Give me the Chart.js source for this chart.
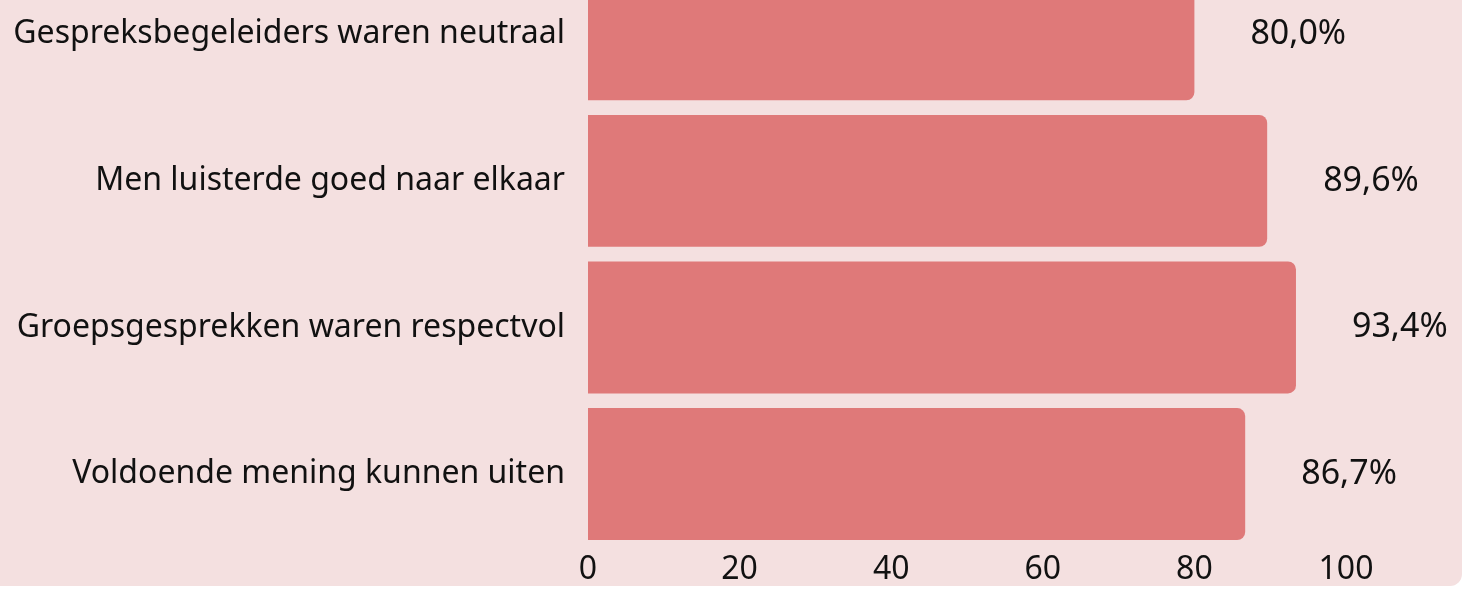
<!DOCTYPE html>
<html lang="nl">
<head>
    <meta charset="UTF-8">
    <title>Gespreksbeleving</title>
    <script src="https://cdn.jsdelivr.net/npm/chart.js"></script>
    <style>
        html, body { margin: 0; padding: 0; background: #ffffff; overflow: hidden; }
        #wrap { position: relative; width: 1466px; height: 589px; overflow: hidden; }
        #panel { position: absolute; left: -20px; top: -30px; width: 1482px; height: 616px;
                 background: #f4e0e0; border-radius: 12px; }
        #chart { position: absolute; left: 0; top: -39px; }
    </style>
</head>
<body>
<div id="wrap">
    <div id="panel"></div>
    <canvas id="chart" width="1466" height="628"></canvas>
</div>
<script>
    const labels = [
        'Gespreksbegeleiders waren neutraal',
        'Men luisterde goed naar elkaar',
        'Groepsgesprekken waren respectvol',
        'Voldoende mening kunnen uiten'
    ];
    const values = [80.0, 89.6, 93.4, 86.7];
    const valueText = ['80,0%', '89,6%', '93,4%', '86,7%'];

    const valueLabels = {
        id: 'valueLabels',
        afterDatasetsDraw(chart) {
            const ctx = chart.ctx;
            const meta = chart.getDatasetMeta(0);
            ctx.save();
            ctx.font = '34px "Noto Sans"';
            ctx.fillStyle = '#111111';
            ctx.textAlign = 'left';
            ctx.textBaseline = 'middle';
            meta.data.forEach((bar, i) => {
                ctx.fillText(valueText[i], bar.x + 56, bar.y);
            });
            ctx.restore();
        }
    };

    new Chart(document.getElementById('chart'), {
        type: 'bar',
        data: {
            labels,
            datasets: [{
                data: values,
                backgroundColor: '#df7979',
                borderRadius: { topRight: 8, bottomRight: 8, topLeft: 0, bottomLeft: 0 },
                borderSkipped: false,
                categoryPercentage: 1,
                barPercentage: 0.9
            }]
        },
        options: {
            indexAxis: 'y',
            responsive: false,
            animation: false,
            layout: { padding: { left: 0, right: 120, top: 0, bottom: 0 } },
            plugins: {
                legend: { display: false },
                tooltip: { enabled: false }
            },
            scales: {
                x: {
                    min: 0,
                    max: 100,
                    grid: { display: false, drawTicks: false },
                    border: { display: false },
                    ticks: {
                        stepSize: 20,
                        color: '#111111',
                        padding: 3,
                        font: { family: 'Noto Sans', size: 32 }
                    },
                    afterFit(scale) { scale.height = 41.7; }
                },
                y: {
                    grid: { display: false, drawTicks: false },
                    border: { display: false },
                    ticks: {
                        color: '#111111',
                        padding: 23,
                        font: { family: 'Noto Sans', size: 32 }
                    },
                    afterFit(scale) {
                        scale.width = 588;
                        scale.paddingTop = 0;
                        scale.paddingBottom = 0;
                    }
                }
            }
        },
        plugins: [valueLabels]
    });
</script>
</body>
</html>
